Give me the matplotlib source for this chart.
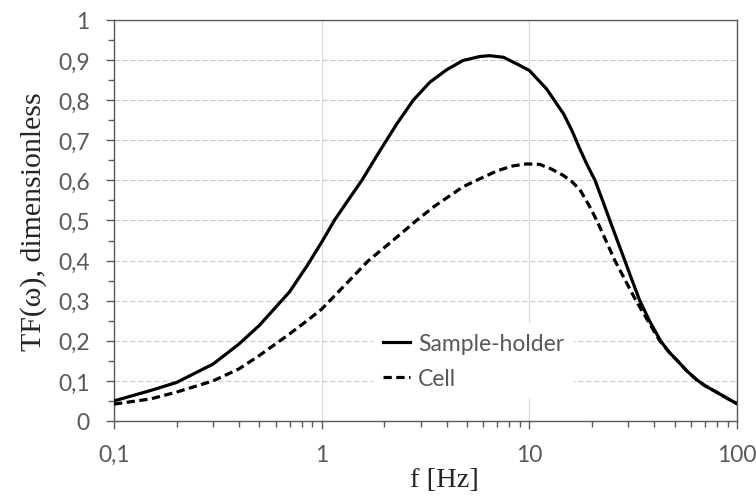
import numpy as np
import matplotlib
matplotlib.use('Agg')
import matplotlib.pyplot as plt
from matplotlib.ticker import FixedLocator, FuncFormatter, NullFormatter

# values
f_holder = [0.1, 0.15, 0.2, 0.3, 0.4, 0.5, 0.7, 0.85, 1.0, 1.15, 1.35, 1.56, 1.907, 2.3, 2.76, 3.32, 4.0,
            4.79, 5.78, 6.44, 7.5, 9.04, 10, 12.1, 14.6, 16, 17.5, 19, 20.7, 22.5, 24.4, 26.5, 28.8,
            31, 34, 38, 42.8, 47, 52.1, 57, 63.8, 70, 79.6, 90, 100]
tf_holder = [0.05, 0.076, 0.096, 0.142, 0.192, 0.238, 0.322, 0.387, 0.446, 0.5, 0.553, 0.6, 0.674, 0.741,
             0.80, 0.845, 0.876, 0.899, 0.909, 0.911, 0.907, 0.886, 0.874, 0.828, 0.766, 0.725, 0.678,
             0.638, 0.6, 0.55, 0.5, 0.45, 0.4, 0.355, 0.3, 0.248, 0.2, 0.172, 0.148, 0.126, 0.103, 0.088,
             0.072, 0.056, 0.043]

f_cell = [0.1, 0.15, 0.2, 0.3, 0.4, 0.5, 0.7, 0.85, 1.0, 1.3, 1.68, 2.2, 2.86, 3.5, 4.15, 4.79, 5.78,
          7.0, 8.3, 9.7, 11.2, 12.8, 14.6, 16, 17.5, 19.5, 21.1, 23.3, 25.8, 29, 32.6, 37, 42.4,
          47, 52.1, 57, 63.8, 70, 79.6, 90, 100]
tf_cell = [0.042, 0.055, 0.072, 0.1, 0.13, 0.163, 0.217, 0.25, 0.279, 0.34, 0.4, 0.45, 0.5, 0.536,
           0.562, 0.584, 0.604, 0.624, 0.636, 0.641, 0.64, 0.628, 0.612, 0.597, 0.577, 0.535, 0.5,
           0.451, 0.4, 0.35, 0.3, 0.252, 0.2, 0.172, 0.148, 0.126, 0.103, 0.088, 0.072, 0.056, 0.043]

x_ticks = [0.1, 1, 10, 100]
x_labels = ['0,1', '1', '10', '100']
y_ticks = [0, 0.1, 0.2, 0.3, 0.4, 0.5, 0.6, 0.7, 0.8, 0.9, 1]

tick_col = '#595959'
tick_font = 'Lato'
label_font = 'Liberation Serif'

fig = plt.figure(figsize=(7.56, 5.02), dpi=100)
ax = fig.add_axes([0.1508, 0.1594, 0.8242, 0.7988])

ax.plot(f_holder, tf_holder, color='black', lw=2.3, label='Sample-holder', zorder=3)
ax.plot(f_cell, tf_cell, color='black', lw=2.3, dashes=(2.6, 1.4), label='Cell', zorder=3)

ax.set_xscale('log')
ax.set_xlim(0.1, 100)
ax.set_ylim(0, 1)

ax.xaxis.set_major_locator(FixedLocator(x_ticks))
ax.xaxis.set_major_formatter(FuncFormatter(lambda v, p: x_labels[x_ticks.index(v)] if v in x_ticks else ''))
ax.xaxis.set_minor_formatter(NullFormatter())
ax.yaxis.set_major_locator(FixedLocator(y_ticks))
ax.yaxis.set_minor_locator(FixedLocator(np.arange(0.05, 1, 0.1)))
ax.yaxis.set_major_formatter(FuncFormatter(lambda v, p: ('%g' % round(v, 2)).replace('.', ',')))

# grid: dashed horizontals, solid verticals at decades
ax.grid(axis='y', which='major', color='#c8c8c8', lw=0.8, linestyle=(0, (4.5, 2.7)))
ax.grid(axis='x', which='major', color='#d9d9d9', lw=0.9, linestyle='-')
ax.set_axisbelow(True)

for s in ax.spines.values():
    s.set_color(tick_col)
    s.set_linewidth(1.0)

ax.tick_params(axis='both', which='both', direction='out', color=tick_col, width=1.0,
               labelcolor=tick_col, labelsize=16.5)
ax.tick_params(axis='both', which='major', length=5.5)
ax.tick_params(axis='both', which='minor', length=4.5)
ax.tick_params(axis='y', which='major', pad=12)
ax.tick_params(axis='x', which='major', pad=11)
for lab in ax.get_xticklabels() + ax.get_yticklabels():
    lab.set_fontfamily(tick_font)

ax.set_xlabel('f [Hz]', fontsize=20.5, family=label_font, color='#262626')
ax.set_ylabel('TF(ω), dimensionless', fontsize=21.5, family=label_font, color='#262626')
ax.xaxis.set_label_coords(0.53, -0.115)
ax.yaxis.set_label_coords(-0.107, 0.5)

leg = ax.legend(loc='center left', bbox_to_anchor=(0.415, 0.150), frameon=True, fancybox=False,
                framealpha=1, edgecolor='none', prop={'family': tick_font, 'size': 16.5},
                labelcolor=tick_col, handlelength=1.18, handletextpad=0.35, labelspacing=0.61,
                borderpad=0.45, borderaxespad=0)

fig.savefig('out.png', dpi=100)
